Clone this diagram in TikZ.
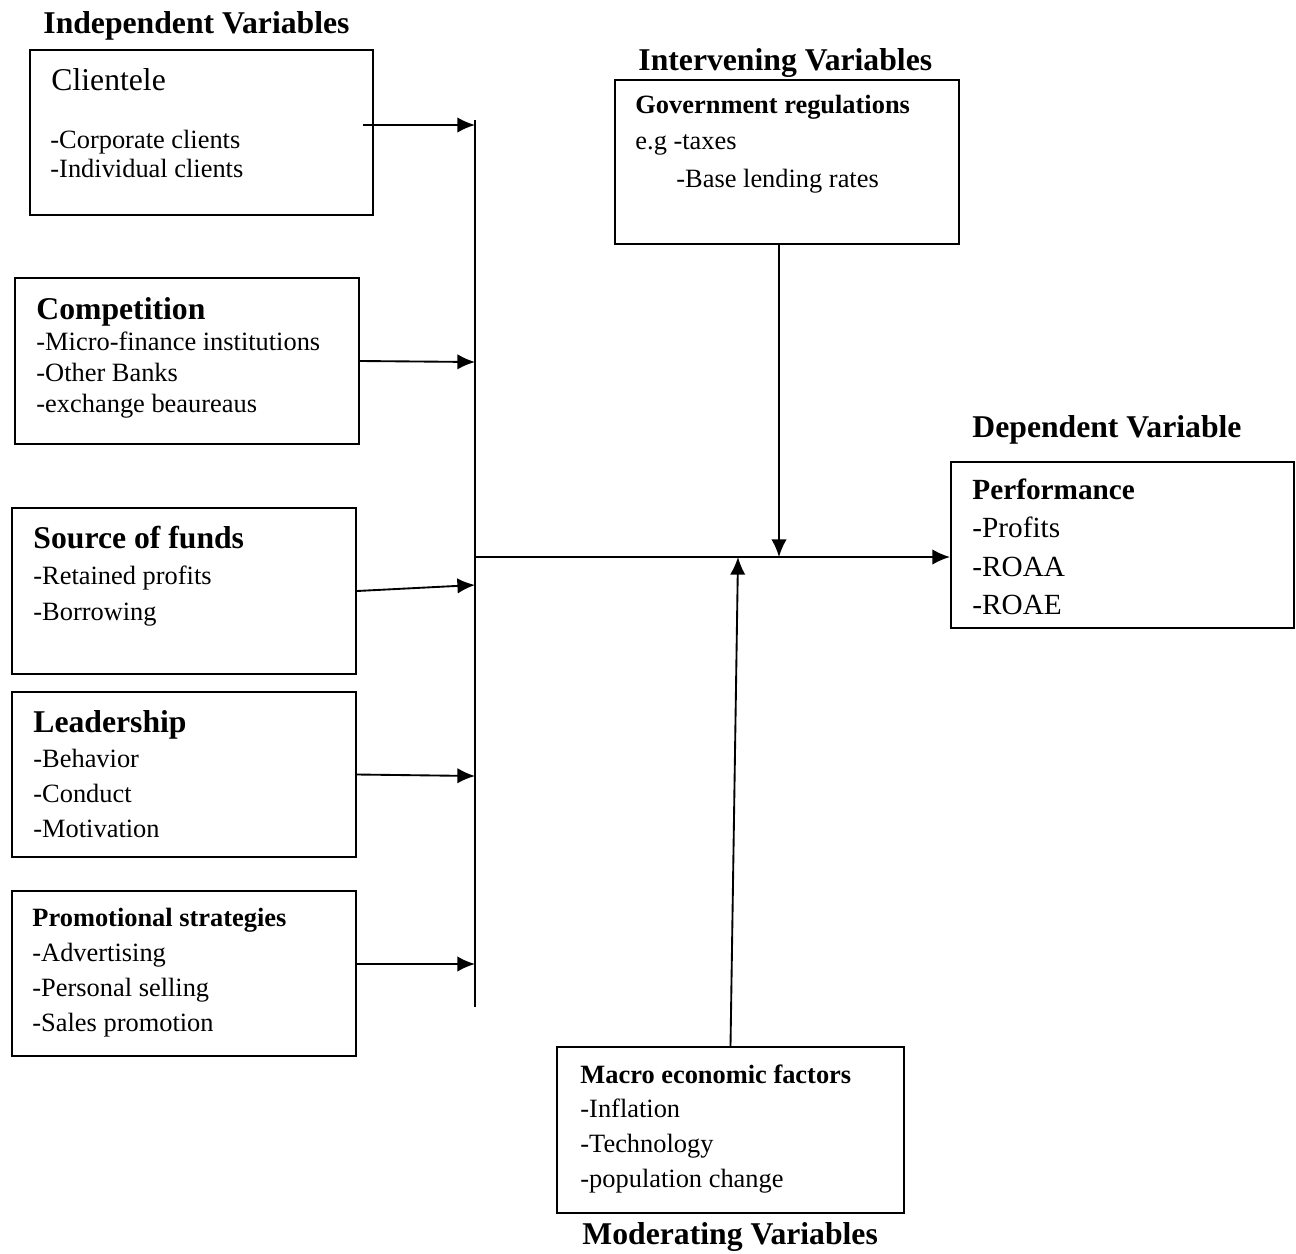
\documentclass[tikz,border=0pt]{standalone}
\usepackage{fontspec}
\setmainfont{Liberation Serif}
\usetikzlibrary{arrows.meta,fit}

\tikzset{
  box/.style={draw, line width=0.9pt, inner sep=0pt},
  title/.style={anchor=base west, inner sep=0pt, font=\fontsize{14.4}{16}\selectfont\bfseries},
  head/.style={anchor=base west, inner sep=0pt, font=\fontsize{14.4}{16}\selectfont\bfseries},
  minor/.style={anchor=base west, inner sep=0pt, font=\fontsize{12}{14}\selectfont\bfseries},
  item/.style={anchor=base west, inner sep=0pt, font=\fontsize{12}{14}\selectfont},
  link/.style={line width=0.85pt, -{Latex[length=8pt,width=7pt]}},
}

\begin{document}
\begin{tikzpicture}[x=0.4545pt, y=-0.4545pt]
  \useasboundingbox (0,0) rectangle (1296,1253);

  % titles
  \node[title] (t-indep) at (43,33) {Independent Variables};
  \node[title] (t-interv) at (638,70) {Intervening Variables};
  \node[title] (t-dep) at (972,437) {Dependent Variable};
  \node[title] (t-moder) at (582,1244) {Moderating Variables};

  % independent variables
  \node[box, fit={(30,50) (373,215)}] (client) {};
  \node[item, font=\fontsize{14.4}{16}\selectfont] (client-h) at (51,90) {Clientele};
  \foreach \t [count=\i] in {-Corporate clients, -Individual clients}
    \node[item] (client-\i) at (50,119+29*\i) {\t};

  \node[box, fit={(15,278) (359,444)}] (comp) {};
  \node[head] (comp-h) at (36,319) {Competition};
  \foreach \t [count=\i] in {-Micro-finance institutions, -Other Banks, -exchange beaureaus}
    \node[item] (comp-\i) at (36,319+31*\i) {\t};

  \node[box, fit={(12,508) (356,674)}] (funds) {};
  \node[head] (funds-h) at (33,548) {Source of funds};
  \foreach \t [count=\i] in {-Retained profits, -Borrowing}
    \node[item] (funds-\i) at (33,548+36*\i) {\t};

  \node[box, fit={(12,692) (356,857)}] (lead) {};
  \node[head] (lead-h) at (33,732) {Leadership};
  \foreach \t [count=\i] in {-Behavior, -Conduct, -Motivation}
    \node[item] (lead-\i) at (33,732+35*\i) {\t};

  \node[box, fit={(12,891) (356,1056)}] (promo) {};
  \node[minor] (promo-h) at (32,926) {Promotional strategies};
  \foreach \t [count=\i] in {-Advertising, -Personal selling, -Sales promotion}
    \node[item] (promo-\i) at (32,926+35*\i) {\t};

  % intervening variable
  \node[box, fit={(615,80) (959,244)}] (gov) {};
  \node[minor] (gov-h) at (635,113) {Government regulations};
  \node[item] (gov-1) at (635,149) {e.g -taxes};
  \node[item] (gov-2) at (676,187) {-Base lending rates};

  % dependent variable
  \node[box, fit={(951,462) (1294,628)}] (perf) {};
  \node[head, font=\fontsize{13.3}{15}\selectfont\bfseries] (perf-h) at (972,499) {Performance};
  \foreach \t [count=\i] in {-Profits, -ROAA, -ROAE}
    \node[item, font=\fontsize{13.3}{15}\selectfont] (perf-\i) at (972,499+38.5*\i) {\t};

  % moderating variable
  \node[box, fit={(557,1047) (904,1213)}] (macro) {};
  \node[minor] (macro-h) at (580,1083) {Macro economic factors};
  \foreach \t [count=\i] in {-Inflation, -Technology, -population change}
    \node[item] (macro-\i) at (580,1083+34.7*\i) {\t};

  % bus and junctions
  \coordinate (bus-top) at (475,120);
  \coordinate (bus-bot) at (475,1007);
  \coordinate (hub) at (475,557);
  \coordinate (down) at (779,557);
  \coordinate (up) at (738,557);
  \draw[line width=0.85pt] (bus-top) -- (bus-bot);

  \draw[link] ([shift={(-11,-7.5)}]client.east) -- (475,125);
  \draw[link] (comp.east) -- (475,362);
  \draw[link] (funds.east) -- (475,585);
  \draw[link] (lead.east) -- (475,776);
  \draw[link] ([shift={(0,-9.5)}]promo.east) -- (475,964);

  \draw[link] (hub) -- (hub -| perf.west);
  \draw[link] (gov.south -| down) -- (down);
  \draw[link] (macro.north) -- (up);
\end{tikzpicture}
\end{document}
